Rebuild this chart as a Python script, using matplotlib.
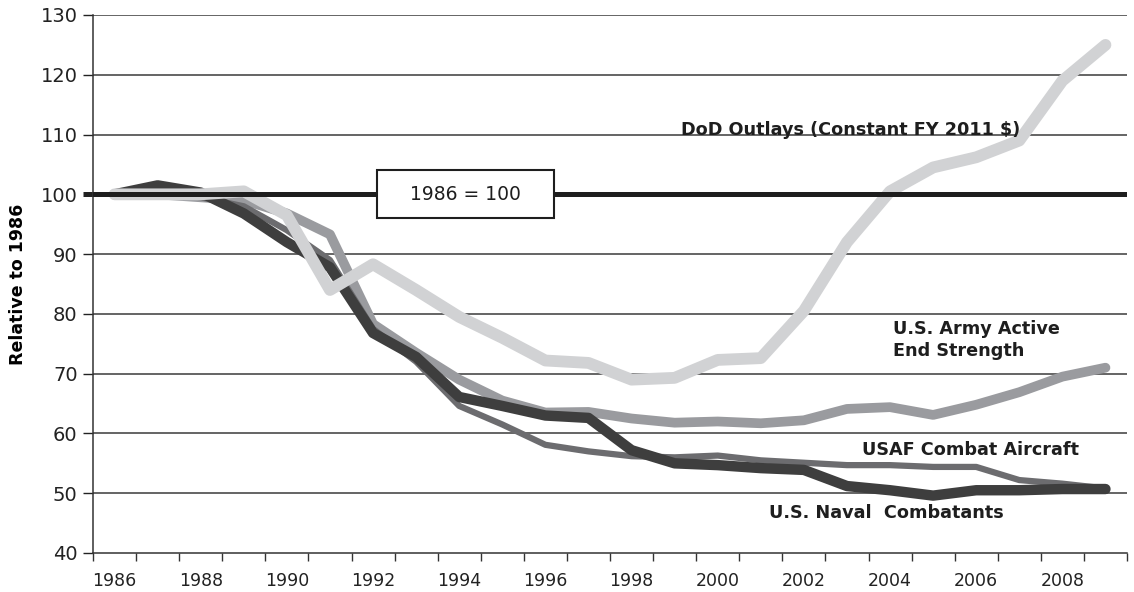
import matplotlib
matplotlib.use("Agg")
import matplotlib.pyplot as plt
from matplotlib.patches import Rectangle

# years on the category axis
years = list(range(1986, 2010))

# series, relative to 1986 = 100
dod_outlays = [100, 100, 100, 100.5, 96.5, 84, 88.3, 84, 79.5, 76, 72.2, 71.8,
               69, 69.3, 72.3, 72.6, 80.5, 92, 100.5, 104.5, 106.2, 109, 119, 125]
army_strength = [100, 100, 99.5, 99, 96.8, 93.3, 78.3, 73.5, 69, 65.5, 63.5, 63.6,
                 62.5, 61.8, 62, 61.7, 62.2, 64.1, 64.4, 63.1, 64.8, 66.9, 69.5, 71]
usaf_aircraft = [100, 100.5, 99.5, 98, 94, 89, 77.5, 72, 64.6, 61.5, 58.1, 57,
                 56.2, 56, 56.3, 55.5, 55.1, 54.7, 54.7, 54.4, 54.4, 52.2, 51.6, 50.8]
naval_combatants = [100, 101.5, 100.3, 96.8, 92, 87.8, 76.8, 72.8, 66.1, 64.6, 63, 62.6,
                    57.2, 55, 54.7, 54.2, 53.9, 51.2, 50.5, 49.6, 50.5, 50.5, 50.7, 50.7]

tick_years = list(range(1986, 2009, 2))
y_ticks = list(range(40, 131, 10))
base = 100

fig = plt.figure(figsize=(11.34, 5.92), dpi=100)
ax = fig.add_axes([93 / 1134, 1 - 553 / 592, (1127 - 93) / 1134, (553 - 15) / 592])

# horizontal grid (drawn by hand so it sits under the data)
for v in y_ticks[1:]:
    ax.axhline(v, color="#3a3a3a", lw=1.1, zorder=1)

style = dict(solid_capstyle="round", solid_joinstyle="round")
ax.plot(years, army_strength, color="#9a9b9f", lw=7.0, zorder=2, **style)
ax.plot(years, usaf_aircraft, color="#6c6c6f", lw=4.5, zorder=3, **style)
ax.plot(years, naval_combatants, color="#3e3e3e", lw=7.5, zorder=4, **style)
ax.plot(years, dod_outlays, color="#d1d2d4", lw=8.5, zorder=5, **style)

ax.axhline(base, color="#1e1e1e", lw=3.6, zorder=6)

ax.set_xlim(1985.5, 2009.5)
ax.set_ylim(40, 130)

# labels centred on even years, tick marks on category boundaries
ax.set_xticks(tick_years)
ax.set_xticklabels([str(y) for y in tick_years])
ax.set_xticks([y - 0.5 for y in years] + [2009.5], minor=True)
ax.tick_params(axis="x", which="major", length=0, pad=14, labelsize=12.5, colors="#222")
ax.tick_params(axis="x", which="minor", length=6, width=1, direction="out", color="#333")

ax.set_yticks(y_ticks)
ax.tick_params(axis="y", length=7, width=1, direction="out", pad=4,
               labelsize=14, colors="#222")
# the 100 tick continues the thick base line
t100 = ax.yaxis.get_major_ticks()[y_ticks.index(base)]
t100.tick1line.set_markeredgewidth(3.6)
t100.tick1line.set_color("#1e1e1e")

for side in ("top", "right"):
    ax.spines[side].set_visible(False)
for side in ("left", "bottom"):
    ax.spines[side].set_color("#333")
    ax.spines[side].set_linewidth(1.1)

ax.set_ylabel("Relative to 1986", fontsize=12.5, fontweight="bold", labelpad=10)

# the "1986 = 100" note box
ax.add_patch(Rectangle((0.275, 0.622), 0.171, 0.09, transform=ax.transAxes,
                       fc="white", ec="#1e1e1e", lw=1.5, zorder=8))
ax.text(0.3605, 0.667, "1986 = 100", fontsize=13.5, ha="center", va="center",
        transform=ax.transAxes, zorder=9, color="#1e1e1e")

lab = dict(fontsize=12.7, fontweight="bold", color="#1e1e1e", zorder=9)
ax.text(1999.15, 110.7, "DoD Outlays (Constant FY 2011 $)", va="center", **lab)
ax.text(2004.06, 75.6, "U.S. Army Active\nEnd Strength", va="center",
        linespacing=1.3, **lab)
ax.text(2003.34, 57.2, "USAF Combat Aircraft", va="center", **lab)
ax.text(2001.2, 46.7, "U.S. Naval  Combatants", va="center", **lab)

fig.savefig("out.png", dpi=100)
